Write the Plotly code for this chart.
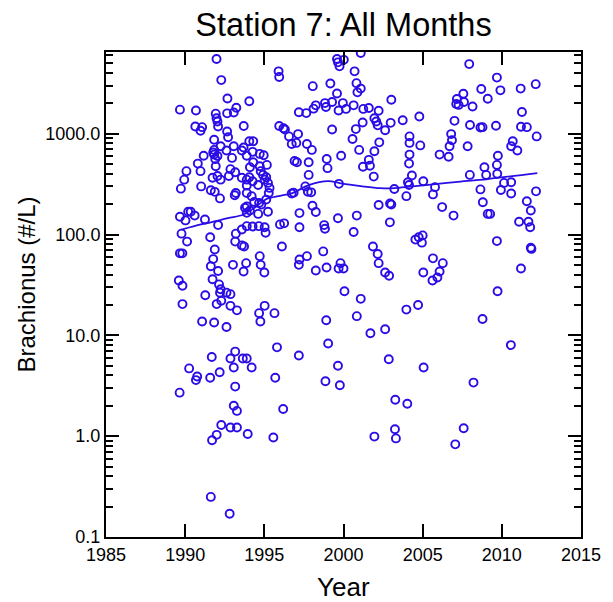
import plotly.graph_objects as go

years = [
    1991.98, 1992.28, 1995.90, 1995.94, 1992.67, 1994.05, 1989.67, 1990.68, 1993.23, 1992.65,
    1993.07, 1991.93, 1991.98, 1992.04, 1990.64, 1991.07, 1990.97, 1992.08, 1993.70, 1992.65,
    1992.71, 1995.94, 1996.21, 1996.30, 1996.56, 1996.73, 1997.02, 1991.83, 1992.24, 1993.07,
    1993.69, 1994.05, 1994.30, 1991.83, 1991.83, 1992.04, 1991.77, 1991.90, 1991.17, 1992.61,
    1992.96, 1993.58, 1993.89, 1994.26, 1994.71, 1994.96, 1990.80, 1991.93, 1992.86, 1994.09,
    1994.30, 1994.71, 1995.16, 1996.91, 1997.06, 1990.08, 1990.97, 1989.94, 1989.73, 1991.01,
    1991.73, 1992.04, 1992.24, 1991.62, 1991.87, 1992.20, 1992.76, 1993.16, 1993.20, 1993.13,
    1993.58, 1993.89, 1993.89, 1994.05, 1994.26, 1993.89, 1994.20, 1994.36, 1994.61, 1994.77,
    1994.92, 1995.02, 1995.12, 1995.23, 1995.33, 1995.28, 1995.12, 1994.81, 1994.67, 1993.89,
    1996.73, 1996.85,
    2001.09, 1999.59, 1999.65, 1999.75, 2000.02, 2000.70, 1998.06, 1999.17, 2000.82, 2001.09,
    2000.88, 1999.59, 2003.02, 1997.18, 1997.65, 1998.11, 1998.25, 1998.83, 1998.89, 1999.28,
    1999.69, 1999.96, 2000.16, 2000.64, 2001.25, 2001.60, 2002.22, 2001.95, 2002.07, 2002.16,
    2002.63, 2002.98, 2001.21, 2000.78, 1999.28, 2003.74, 2004.79, 1997.13, 1997.69, 1998.00,
    2000.57, 2000.99, 2001.95, 2002.26, 2004.17, 2004.17, 2004.85, 2004.17, 2004.14, 2004.32,
    2004.07, 2004.14, 2005.04, 2003.97, 1999.85, 1998.94, 1998.99, 1997.80, 1997.80, 2001.60,
    2001.67, 2001.23, 2001.91, 1999.71, 1997.59, 1997.75, 1997.96, 2003.21, 1998.04, 2002.22,
    2002.94, 2003.02,
    2007.94, 2009.69, 2009.91, 2008.70, 2009.11, 2011.19, 2012.14, 2007.57, 2007.16, 2007.61,
    2007.12, 2007.27, 2008.15, 2011.27, 2007.01, 2007.99, 2008.65, 2008.78, 2009.63, 2011.21,
    2011.58, 2012.20, 2006.80, 2006.85, 2006.70, 2007.84, 2006.07, 2006.64, 2010.69, 2010.59,
    2010.98, 2009.75, 2008.90, 2009.69, 2009.01, 2009.71, 2007.98, 2005.78, 2005.65, 2006.23,
    2008.65, 2008.80, 2009.94, 2010.14, 2010.59, 2010.59, 2012.16, 2011.58, 2011.83,
    1989.67, 1990.02, 1990.19, 1990.35, 1990.60, 1991.25, 1992.08, 1993.78, 1993.89, 1994.09,
    1994.61, 1995.23, 1989.77, 1990.12, 1991.58, 1993.20, 1993.58, 1993.89, 1994.26, 1994.65,
    1995.02, 1995.08, 1995.99, 1996.25, 1993.16, 1993.58, 1993.72, 1996.11, 1989.67, 1989.82,
    1991.87, 1991.77, 1991.62, 1993.02, 1993.85, 1993.69, 1994.71, 1994.77, 1995.00, 1992.08,
    1991.73, 1989.60, 1989.83, 1992.14, 1992.24, 1992.20, 1992.61, 1992.86, 1991.27, 1992.28,
    1991.99, 1989.83, 1992.86, 1993.27, 1995.02, 1994.67, 1995.64, 1994.75, 1991.07, 1991.83,
    1992.61, 1995.80, 1993.16, 1991.68, 1992.86, 1993.64, 1993.89, 1993.07, 1994.20, 1990.25,
    1998.25, 1997.22, 1999.65, 2000.84, 1997.22, 1998.78, 1998.83, 2000.64, 2002.93, 2004.54,
    2004.75, 2005.00, 2004.95, 1997.22, 1997.18, 1997.69, 1998.72, 1998.25, 1998.93, 1999.81,
    1999.69, 2000.00, 2001.86, 2002.16, 2002.22, 2002.63, 2002.88, 2005.04, 2000.06, 2001.09,
    2003.97, 2004.71, 1998.91, 2000.84, 2001.70, 2002.63, 1999.03, 1997.18, 1999.65, 2002.86,
    2005.06,
    2006.95, 2009.11, 2009.26, 2011.09, 2011.68, 2011.79, 2009.69, 2011.83, 2011.87, 2005.65,
    2006.27, 2006.07, 2005.93, 2005.62, 2011.21, 2009.73, 2008.78, 2010.57,
    1992.18, 1990.76, 1990.68, 1991.58, 1995.69, 1989.65, 1993.16, 1993.07, 1993.27, 1996.19,
    1992.28, 1992.86, 1993.27, 1993.95, 1991.99, 1991.70, 1995.57, 1991.62, 1992.81,
    1998.86, 1999.77, 2003.27, 2004.03, 2003.25, 2003.31, 2001.95,
    2008.21, 2007.59, 2007.06,
]

values = [
    5500, 3400, 4150, 3650, 2230, 2100, 1730, 1700, 1810, 1590,
    1620, 1580, 1420, 1320, 1180, 1160, 1070, 1180, 1190, 1050,
    920, 1190, 1130, 1100, 940, 790, 810, 870, 750, 750,
    730, 840, 840, 690, 620, 600, 650, 560, 605, 680,
    575, 680, 605, 660, 630, 610, 505, 475, 445, 465,
    520, 475, 490, 535, 520, 425, 425, 350, 285, 300,
    365, 380, 350, 275, 265, 228, 380, 415, 258, 245,
    365, 350, 306, 370, 337, 258, 240, 210, 310, 425,
    390, 350, 370, 325, 290, 258, 222, 198, 205, 190,
    255, 260,
    6300, 5500, 5100, 4650, 5400, 4150, 2960, 3150, 3170, 2800,
    2570, 2500, 2170, 1630, 1600, 1770, 1910, 2010, 1840, 2060,
    1700, 2010, 1760, 1910, 1760, 1800, 1690, 1420, 1320, 1210,
    1080, 1280, 1290, 1110, 1100, 1360, 1480, 990, 790, 690,
    885, 690, 670, 820, 940, 810, 765, 620, 505, 385,
    330, 310, 337, 240, 605, 560, 455, 520, 390, 550,
    480, 470, 375, 318, 300, 265, 262, 283, 193, 196,
    203, 198,
    4900, 3600, 2690, 2770, 2220, 2800, 3100, 2490, 2210, 2060,
    1970, 1930, 1860, 1640, 1340, 1220, 1150, 1160, 1200, 1170,
    1160, 940, 990, 860, 750, 750, 620, 590, 840, 750,
    680, 605, 465, 490, 390, 400, 390, 295, 250, 187,
    280, 209, 276, 325, 330, 255, 268, 214, 173,
    150, 138, 168, 168, 154, 141, 124, 184, 164, 173,
    160, 168, 102, 85, 94, 102, 112, 121, 120, 121,
    118, 104, 126, 129, 85, 78, 76, 76, 65, 65,
    71, 57, 48.5, 50, 52, 43, 61, 50, 42, 43.5,
    36, 35, 31, 32, 28.6, 26.5, 26.5, 25.6, 25, 22,
    20.4, 20.4, 19.6, 17.7, 19.6, 16.6, 16.6, 13.7, 13.7, 13.4,
    12.1, 7.6, 6.9, 6.1, 5.9, 5.9, 5.9, 4.8, 4.8, 4.7,
    167, 163, 145, 154, 118, 124, 114, 106, 132, 89,
    94, 98, 83, 56.5, 50, 61, 68, 44, 47, 52,
    46, 46, 76, 64, 52, 42, 39, 42, 27.4, 23,
    18, 20, 14.1, 15.5, 10.5, 11.5, 8.3, 6.3, 5.0, 5.8,
    4.8,
    154, 160, 160, 134, 134, 118, 86, 74, 72, 58,
    52, 43, 37.5, 35, 46, 27.4, 14.5, 8.0,
    4.3, 3.9, 3.6, 3.8, 3.8, 2.7, 3.1, 2.0, 1.78, 1.86,
    1.29, 1.22, 1.22, 1.05, 1.03, 0.91, 0.97, 0.25, 0.17,
    3.5, 3.2, 2.3, 2.1, 1.17, 0.95, 0.99,
    3.4, 1.2, 0.83,
]

smooth_years = [1989.77, 1991.0, 1991.62, 1992.7, 1993.69, 1994.5, 1995.12, 1996.0, 1996.77,
                1997.8, 1999.03, 1999.75, 2000.4, 2001.09, 2002.32, 2003.2, 2004.2, 2005.2,
                2007.06, 2009.11, 2012.24]
smooth_values = [112, 126, 132, 145, 158, 190, 224, 242, 257,
                 309, 339, 324, 312, 302, 288, 288, 298, 309,
                 331, 355, 407]

x_ticks = [1985, 1990, 1995, 2000, 2005, 2010, 2015]
y_ticks = [0.1, 1, 10, 100, 1000]
y_tick_labels = ["0.1", "1.0", "10.0", "100.0", "1000.0"]

BLUE = "#2a0ce6"
FONT = "Liberation Sans, Arial, sans-serif"

fig = go.Figure()
fig.add_trace(go.Scatter(
    x=smooth_years, y=smooth_values, mode="lines",
    line=dict(color=BLUE, width=1.8, shape="spline"),
    hoverinfo="skip", showlegend=False,
))
fig.add_trace(go.Scatter(
    x=years, y=values, mode="markers",
    marker=dict(symbol="circle-open", size=8, color=BLUE, line=dict(width=1.9, color=BLUE)),
    showlegend=False,
))

fig.update_layout(
    width=613, height=602,
    margin=dict(l=106, r=21, t=52, b=65),
    paper_bgcolor="white", plot_bgcolor="white",
    font=dict(family=FONT, color="black"),
    title=dict(text="Station 7: All Months", x=0.5, xref="paper", xanchor="center",
               y=1 - 25 / 602, yref="container", yanchor="middle",
               font=dict(size=32.5, family=FONT, color="black")),
    showlegend=False,
)

fig.update_xaxes(
    range=[1985, 2015], tickvals=x_ticks, ticktext=[str(t) for t in x_ticks],
    showgrid=False, zeroline=False,
    showline=True, linecolor="black", linewidth=2, mirror="ticks",
    ticks="inside", ticklen=13, tickwidth=2, tickcolor="black",
    tickfont=dict(size=18, family=FONT, color="black"),
)
fig.update_yaxes(
    type="log", range=[-1, 3.81], tickvals=y_ticks, ticktext=y_tick_labels,
    showgrid=False, zeroline=False,
    showline=True, linecolor="black", linewidth=2, mirror="ticks",
    ticks="inside", ticklen=13, tickwidth=2, tickcolor="black",
    tickfont=dict(size=18, family=FONT, color="black"),
    minor=dict(ticks="inside", ticklen=7, tickwidth=1.5, tickcolor="black",
               dtick="D1", showgrid=False),
)

fig.add_annotation(text="Year", xref="paper", yref="paper", x=0.5, y=-0.103,
                   xanchor="center", yanchor="middle", showarrow=False,
                   font=dict(size=26, family=FONT, color="black"))
fig.add_annotation(text="Brachionus (#/L)", xref="paper", yref="paper", x=-0.167, y=0.52,
                   xanchor="center", yanchor="middle", textangle=-90, showarrow=False,
                   font=dict(size=24, family=FONT, color="black"))

fig.write_html("out.html", config={"displayModeBar": False},
               post_script="document.body.style.margin='0px';")
